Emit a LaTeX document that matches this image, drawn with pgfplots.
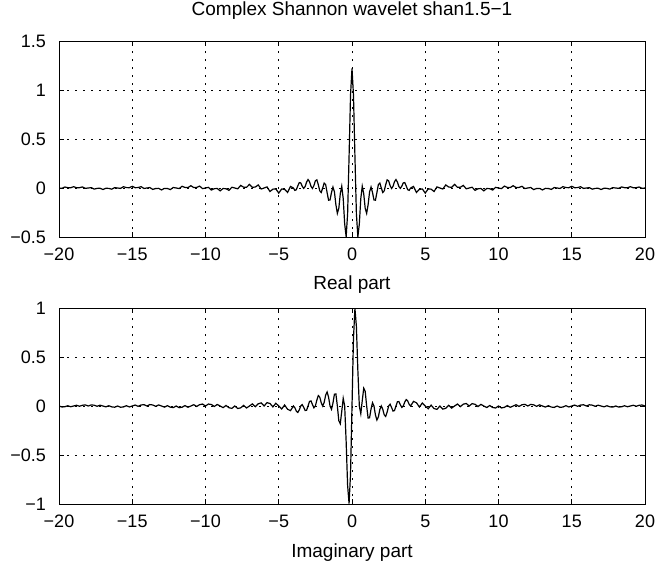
\documentclass[border=0pt]{standalone}
\usepackage{fontspec}
\setmainfont{Liberation Sans}
\usepackage{pgfplots}
\usepackage{pgfplotstable}
\pgfplotsset{compat=1.18}

\pgfplotstableread{
x re im
-20.0 0 0
-19.8 -0.0033 -0.0101
-19.6 0.0102 -0.0074
-19.4 0.0033 0.0024
-19.2 0.0024 -0.0075
-19.0 0.0136 0
-18.8 0.0025 0.0077
-18.6 0.0035 -0.0025
-18.4 0.0108 0.0079
-18.2 -0.0036 0.0109
-18.0 0 0
-17.8 0.0036 0.0112
-17.6 -0.0113 0.0082
-17.4 -0.0037 -0.0027
-17.2 -0.0027 0.0084
-17.0 -0.0152 0
-16.8 -0.0028 -0.0087
-16.6 -0.0039 0.0028
-16.4 -0.0121 -0.0088
-16.2 0.0040 -0.0123
-16.0 0 0
-15.8 -0.0041 -0.0126
-15.6 0.0128 -0.0093
-15.4 0.0042 0.0031
-15.2 0.0031 -0.0095
-15.0 0.0173 0
-14.8 0.0032 0.0098
-14.6 0.0044 -0.0032
-14.4 0.0138 0.0101
-14.2 -0.0046 0.0141
-14.0 0 0
-13.8 0.0047 0.0145
-13.6 -0.0146 0.0106
-13.4 -0.0049 -0.0035
-13.2 -0.0036 0.0109
-13.0 -0.0199 0
-12.8 -0.0037 -0.0113
-12.6 -0.0051 0.0037
-12.4 -0.0161 -0.0117
-12.2 0.0053 -0.0164
-12.0 0 0
-11.8 -0.0055 -0.0169
-11.6 0.0172 -0.0125
-11.4 0.0057 0.0041
-11.2 0.0042 -0.0129
-11.0 0.0235 0
-10.8 0.0044 0.0134
-10.6 0.0061 -0.0044
-10.4 0.0192 0.0139
-10.2 -0.0063 0.0195
-10.0 0 0
-9.8 0.0066 0.0203
-9.6 -0.0207 0.0151
-9.4 -0.0069 -0.0050
-9.2 -0.0051 0.0157
-9.0 -0.0288 0
-8.8 -0.0053 -0.0165
-8.6 -0.0075 0.0055
-8.4 -0.0237 -0.0172
-8.2 0.0079 -0.0243
-8.0 0 0
-7.8 -0.0083 -0.0256
-7.6 0.0262 -0.0190
-7.4 0.0087 0.0063
-7.2 0.0065 -0.0201
-7.0 0.0370 0
-6.8 0.0069 0.0213
-6.6 0.0098 -0.0071
-6.4 0.0311 0.0226
-6.2 -0.0104 0.0321
-6.0 0 0
-5.8 0.0112 0.0343
-5.6 -0.0356 0.0259
-5.4 -0.0120 -0.0087
-5.2 -0.0091 0.0279
-5.0 -0.0518 0
-4.8 -0.0098 -0.0302
-4.6 -0.0141 0.0102
-4.4 -0.0453 -0.0329
-4.2 0.0154 -0.0474
-4.0 0 0
-3.9 -0.0244 -0.0177
-3.8 -0.0170 -0.0524
-3.7 0.0214 -0.0657
-3.6 0.0553 -0.0402
-3.5 0.0523 0
-3.4 0.0190 0.0138
-3.3 -0.0038 -0.0117
-3.2 0.0147 -0.0453
-3.1 0.0602 -0.0437
-3.0 0.0863 0
-2.9 0.0643 0.0467
-2.8 0.0168 0.0517
-2.7 -0.0046 0.0143
-2.6 0.0249 -0.0181
-2.5 0.0732 0
-2.4 0.0830 0.0603
-2.3 0.0344 0.1058
-2.2 -0.0294 0.0905
-2.1 -0.0453 0.0329
-2.0 0 0
-1.9 0.0501 0.0364
-1.8 0.0360 0.1107
-1.7 -0.0465 0.1430
-1.6 -0.1245 0.0905
-1.5 -0.1220 0
-1.4 -0.0462 -0.0336
-1.3 0.0096 0.0296
-1.2 -0.0392 0.1206
-1.1 -0.1697 0.1233
-1.0 -0.2589 0
-0.9 -0.2073 -0.1507
-0.8 -0.0588 -0.1809
-0.7 0.0179 -0.0550
-0.6 -0.1078 0.0784
-0.5 -0.3661 0
-0.4 -0.4980 -0.3618
-0.3 -0.2634 -0.8107
-0.2 0.3236 -0.9960
-0.1 0.9510 -0.6910
0.0 1.2200 0
0.1 0.9510 0.6910
0.2 0.3236 0.9960
0.3 -0.2634 0.8107
0.4 -0.4980 0.3618
0.5 -0.3661 0
0.6 -0.1078 -0.0784
0.7 0.0179 0.0550
0.8 -0.0588 0.1809
0.9 -0.2073 0.1507
1.0 -0.2589 0
1.1 -0.1697 -0.1233
1.2 -0.0392 -0.1206
1.3 0.0096 -0.0296
1.4 -0.0462 0.0336
1.5 -0.1220 0
1.6 -0.1245 -0.0905
1.7 -0.0465 -0.1430
1.8 0.0360 -0.1107
1.9 0.0501 -0.0364
2.0 0 0
2.1 -0.0453 -0.0329
2.2 -0.0294 -0.0905
2.3 0.0344 -0.1058
2.4 0.0830 -0.0603
2.5 0.0732 0
2.6 0.0249 0.0181
2.7 -0.0046 -0.0143
2.8 0.0168 -0.0517
2.9 0.0643 -0.0467
3.0 0.0863 0
3.1 0.0602 0.0437
3.2 0.0147 0.0453
3.3 -0.0038 0.0117
3.4 0.0190 -0.0138
3.5 0.0523 0
3.6 0.0553 0.0402
3.7 0.0214 0.0657
3.8 -0.0170 0.0524
3.9 -0.0244 0.0177
4.0 0 0
4.2 0.0154 0.0474
4.4 -0.0453 0.0329
4.6 -0.0141 -0.0102
4.8 -0.0098 0.0302
5.0 -0.0518 0
5.2 -0.0091 -0.0279
5.4 -0.0120 0.0087
5.6 -0.0356 -0.0259
5.8 0.0112 -0.0343
6.0 0 0
6.2 -0.0104 -0.0321
6.4 0.0311 -0.0226
6.6 0.0098 0.0071
6.8 0.0069 -0.0213
7.0 0.0370 0
7.2 0.0065 0.0201
7.4 0.0087 -0.0063
7.6 0.0262 0.0190
7.8 -0.0083 0.0256
8.0 0 0
8.2 0.0079 0.0243
8.4 -0.0237 0.0172
8.6 -0.0075 -0.0055
8.8 -0.0053 0.0165
9.0 -0.0288 0
9.2 -0.0051 -0.0157
9.4 -0.0069 0.0050
9.6 -0.0207 -0.0151
9.8 0.0066 -0.0203
10.0 0 0
10.2 -0.0063 -0.0195
10.4 0.0192 -0.0139
10.6 0.0061 0.0044
10.8 0.0044 -0.0134
11.0 0.0235 0
11.2 0.0042 0.0129
11.4 0.0057 -0.0041
11.6 0.0172 0.0125
11.8 -0.0055 0.0169
12.0 0 0
12.2 0.0053 0.0164
12.4 -0.0161 0.0117
12.6 -0.0051 -0.0037
12.8 -0.0037 0.0113
13.0 -0.0199 0
13.2 -0.0036 -0.0109
13.4 -0.0049 0.0035
13.6 -0.0146 -0.0106
13.8 0.0047 -0.0145
14.0 0 0
14.2 -0.0046 -0.0141
14.4 0.0138 -0.0101
14.6 0.0044 0.0032
14.8 0.0032 -0.0098
15.0 0.0173 0
15.2 0.0031 0.0095
15.4 0.0042 -0.0031
15.6 0.0128 0.0093
15.8 -0.0041 0.0126
16.0 0 0
16.2 0.0040 0.0123
16.4 -0.0121 0.0088
16.6 -0.0039 -0.0028
16.8 -0.0028 0.0087
17.0 -0.0152 0
17.2 -0.0027 -0.0084
17.4 -0.0037 0.0027
17.6 -0.0113 -0.0082
17.8 0.0036 -0.0112
18.0 0 0
18.2 -0.0036 -0.0109
18.4 0.0108 -0.0079
18.6 0.0035 0.0025
18.8 0.0025 -0.0077
19.0 0.0136 0
19.2 0.0024 0.0075
19.4 0.0033 -0.0024
19.6 0.0102 0.0074
19.8 -0.0033 0.0101
20.0 0 0
}\wavedata

\pgfplotsset{
  matstyle/.style={
    scale only axis,
    width=586pt, height=196pt,
    xmin=-20, xmax=20,
    xtick={-20,-15,-10,-5,0,5,10,15,20},
    xticklabels={−20,−15,−10,−5,0,5,10,15,20},
    tick align=inside,
    xtick pos=both, ytick pos=both,
    major tick length=5pt,
    every tick/.style={black, line width=0.9pt},
    axis line style={line width=1pt},
    grid=major,
    major grid style={black, line width=1pt, dash pattern=on 2pt off 6pt},
    tick label style={font=\fontsize{18}{20}\selectfont},
    xticklabel style={anchor=base, yshift=-23pt},
    yticklabel style={anchor=east, inner sep=0pt, xshift=-13pt},
    label style={font=\fontsize{19}{21}\selectfont},
    xlabel style={at={(0.5,0)}, anchor=base},
    title style={font=\fontsize{19}{21}\selectfont, at={(0.5,1)}, anchor=base, yshift=20pt},
  }
}

\begin{document}
\begin{tikzpicture}
\useasboundingbox (0pt,0pt) rectangle (660pt,-567pt);
\begin{axis}[matstyle,
  at={(59pt,-237pt)}, anchor=south west,
  ymin=-0.5, ymax=1.5,
  ytick={-0.5,0,0.5,1,1.5},
  yticklabels={−0.5,0,0.5,1,1.5},
  title={Complex Shannon wavelet shan1.5−1},
  xlabel={Real part},
  xlabel style={yshift=-52pt},
]
\addplot[black, line width=1.2pt] table[x=x, y=re] {\wavedata};
\end{axis}
\begin{axis}[matstyle,
  at={(59pt,-504pt)}, anchor=south west,
  ymin=-1, ymax=1,
  ytick={-1,-0.5,0,0.5,1},
  yticklabels={−1,−0.5,0,0.5,1},
  xlabel={Imaginary part},
  xlabel style={yshift=-53pt},
]
\addplot[black, line width=1.2pt] table[x=x, y=im] {\wavedata};
\end{axis}
\end{tikzpicture}
\end{document}
